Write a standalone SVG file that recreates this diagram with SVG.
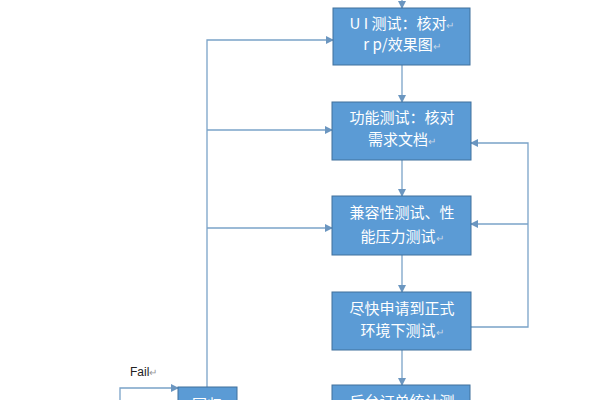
<svg xmlns="http://www.w3.org/2000/svg" width="600" height="400" viewBox="0 0 600 400">
<style>
.box{fill:#5b9bd5;stroke:#41719c;stroke-width:1}
.t{font-family:"Noto Sans CJK SC","Liberation Sans",sans-serif;font-size:15px;fill:#ffffff;text-anchor:middle}
.pm{fill:#c8d8e8;font-size:10px}
.ln{fill:none;stroke:#7aa3c8;stroke-width:1.3}
.lbl{font-family:"Liberation Sans",sans-serif;font-size:12px;fill:#222}
</style>
<defs>
<marker id="ah" markerWidth="8" markerHeight="8" refX="7" refY="4" orient="auto" markerUnits="userSpaceOnUse">
<path d="M0,0 L8,4 L0,8 Z" fill="#6b96c0"/>
</marker>
</defs>
<rect width="600" height="400" fill="#ffffff"/>
<g id="connectors">
<line class="ln" x1="402" y1="0" x2="402" y2="8" marker-end="url(#ah)"/>
<line class="ln" x1="402" y1="65" x2="402" y2="102" marker-end="url(#ah)"/>
<line class="ln" x1="402" y1="160" x2="402" y2="196" marker-end="url(#ah)"/>
<line class="ln" x1="402" y1="255" x2="402" y2="292" marker-end="url(#ah)"/>
<line class="ln" x1="402" y1="350" x2="402" y2="385" marker-end="url(#ah)"/>
<polyline class="ln" points="207,387 207,40 333,40" marker-end="url(#ah)"/>
<line class="ln" x1="207" y1="130" x2="332" y2="130" marker-end="url(#ah)"/>
<line class="ln" x1="207" y1="228" x2="332" y2="228" marker-end="url(#ah)"/>
<polyline class="ln" points="471,327 528,327 528,143 471,143" marker-end="url(#ah)"/>
<line class="ln" x1="528" y1="224" x2="471" y2="224" marker-end="url(#ah)"/>
<polyline class="ln" points="120,400 120,388 178,388" marker-end="url(#ah)"/>
</g>
<g id="n1">
<rect class="box" x="333" y="8" width="137" height="57"/>
<text class="t" x="402" y="29">U I 测试：核对<tspan class="pm">↵</tspan></text>
<text class="t" x="402" y="50">r p/效果图<tspan class="pm">↵</tspan></text>
</g>
<g id="n2">
<rect class="box" x="332" y="102" width="139" height="58"/>
<text class="t" x="402" y="123">功能测试：核对</text>
<text class="t" x="402" y="145">需求文档<tspan class="pm">↵</tspan></text>
</g>
<g id="n3">
<rect class="box" x="332" y="196" width="139" height="59"/>
<text class="t" x="402" y="218">兼容性测试、性</text>
<text class="t" x="402" y="242">能压力测试<tspan class="pm">↵</tspan></text>
</g>
<g id="n4">
<rect class="box" x="332" y="292" width="139" height="58"/>
<text class="t" x="402" y="314">尽快申请到正式</text>
<text class="t" x="402" y="336">环境下测试<tspan class="pm">↵</tspan></text>
</g>
<g id="n5">
<rect class="box" x="332" y="385" width="138" height="30"/>
<text class="t" x="402" y="407">后台订单统计测</text>
</g>
<g id="n6">
<rect class="box" x="178" y="387" width="59" height="30"/>
<text class="t" x="207" y="410">回归</text>
</g>
<g id="fail">
<text class="lbl" x="130" y="376">Fail<tspan fill="#999" font-size="10">↵</tspan></text>
</g>
</svg>
